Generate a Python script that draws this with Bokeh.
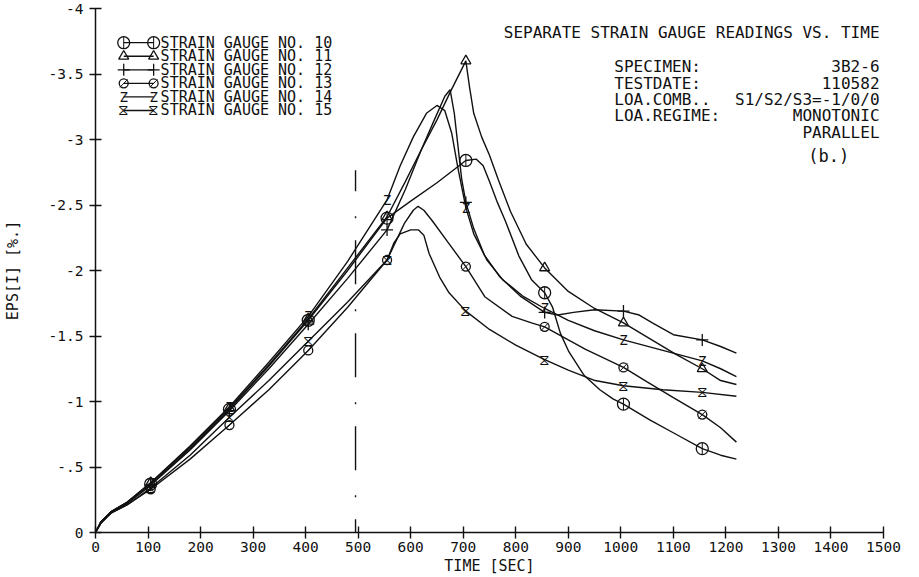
from bokeh.plotting import figure
from bokeh.models import Range1d, FixedTicker
from bokeh.core.properties import value
from bokeh.embed import file_html
from bokeh.resources import INLINE

# ---------------- data ----------------
rise_t = [0, 10, 30, 60, 105, 180, 255, 330, 405, 480, 555]

t10 = rise_t + [600, 650, 705, 725, 738, 750, 765, 780, 806, 830, 855, 870, 885, 901, 930, 960, 985, 1005, 1055, 1105, 1155, 1190, 1220]
v10 = [0, -.08, -.16, -.23, -.37, -.64, -.94, -1.27, -1.62, -2.00, -2.40,
       -2.53, -2.67, -2.84, -2.85, -2.80, -2.68, -2.52, -2.38, -2.11, -1.93, -1.83, -1.72, -1.52, -1.38, -1.20, -1.09, -1.02, -0.98, -0.86, -0.75, -0.64, -0.59, -0.56]

t11 = rise_t + [590, 620, 650, 675, 695, 705, 712, 720, 735, 750, 767, 790, 820, 855, 900, 950, 1005, 1055, 1105, 1155, 1190, 1220]
v11 = [0, -.08, -.16, -.23, -.38, -.65, -.95, -1.28, -1.63, -2.02, -2.41,
       -2.68, -2.92, -3.15, -3.36, -3.52, -3.60, -3.40, -3.20, -3.02, -2.88, -2.69, -2.45, -2.20, -2.02, -1.84, -1.71, -1.60, -1.48, -1.36, -1.25, -1.16, -1.13]

t12 = rise_t + [590, 620, 645, 665, 675, 683, 690, 697, 705, 720, 740, 770, 810, 855, 880, 910, 950, 1005, 1035, 1060, 1100, 1155, 1190, 1220]
v12 = [0, -.07, -.15, -.22, -.36, -.63, -.93, -1.25, -1.59, -1.94, -2.31,
       -2.62, -2.92, -3.15, -3.33, -3.38, -3.20, -2.95, -2.70, -2.52, -2.32, -2.12, -1.95, -1.80, -1.68, -1.66, -1.68, -1.70, -1.69, -1.66, -1.60, -1.51, -1.47, -1.42, -1.37]

t13 = rise_t + [588, 605, 614, 625, 641, 670, 705, 741, 793, 830, 855, 900, 932, 1005, 1050, 1100, 1155, 1190, 1220]
v13 = [0, -.07, -.15, -.21, -.33, -.56, -.82, -1.09, -1.39, -1.72, -2.08,
       -2.36, -2.46, -2.49, -2.46, -2.38, -2.22, -2.03, -1.80, -1.65, -1.60, -1.57, -1.47, -1.40, -1.26, -1.15, -1.03, -0.90, -0.80, -0.69]

t14 = rise_t + [580, 605, 630, 650, 665, 678, 690, 705, 720, 745, 775, 815, 855, 900, 950, 1005, 1080, 1155, 1190, 1220]
v14 = [0, -.08, -.16, -.23, -.38, -.66, -.96, -1.30, -1.65, -2.07, -2.54,
       -2.80, -3.02, -3.20, -3.26, -3.22, -3.05, -2.78, -2.48, -2.28, -2.08, -1.93, -1.80, -1.71, -1.62, -1.54, -1.47, -1.39, -1.31, -1.25, -1.19]

t15 = rise_t + [568, 580, 600, 615, 625, 635, 655, 673, 705, 750, 800, 855, 900, 951, 1005, 1080, 1155, 1220]
v15 = [0, -.07, -.15, -.21, -.34, -.59, -.88, -1.16, -1.46, -1.76, -2.08,
       -2.21, -2.28, -2.31, -2.31, -2.27, -2.13, -1.95, -1.83, -1.69, -1.55, -1.43, -1.32, -1.24, -1.16, -1.12, -1.09, -1.07, -1.04]

marker_times = [105, 255, 405, 555, 705, 855, 1005, 1155]
gauge_names = ["STRAIN GAUGE NO. 10", "STRAIN GAUGE NO. 11", "STRAIN GAUGE NO. 12",
               "STRAIN GAUGE NO. 13", "STRAIN GAUGE NO. 14", "STRAIN GAUGE NO. 15"]
x_ticks = [0, 100, 200, 300, 400, 500, 600, 700, 800, 900, 1000, 1100, 1200, 1300, 1400, 1500]
y_ticks = [0, -0.5, -1, -1.5, -2, -2.5, -3, -3.5, -4]
y_tick_labels = ["0", "-.5", "-1", "-1.5", "-2", "-2.5", "-3", "-3.5", "-4"]
divider_time = [495, 495]
divider_eps = [-2.765, 0.0]

title_text = "SEPARATE STRAIN GAUGE READINGS VS. TIME"
info_keys = ["SPECIMEN:", "TESTDATE:", "LOA.COMB..", "LOA.REGIME:", ""]
info_vals = ["3B2-6", "110582", "S1/S2/S3=-1/0/0", "MONOTONIC", "PARALLEL"]
panel_tag = "(b.)"

# ---------------- layout helpers (pixel -> data) ----------------
FX0, FX1, FY0, FY1 = 92.7, 883.0, 533.3, 7.7


def tx(px):
    return (px - FX0) * 1500.0 / (FX1 - FX0)


def vy(py):
    return -4.0 * (FY0 - py) / (FY0 - FY1)


FONT = "DejaVu Sans Mono"
INK = "#111111"

p = figure(width=919, height=577, output_backend="svg", toolbar_location=None,
           x_range=Range1d(0, 1500), y_range=Range1d(0, -4),
           min_border_left=93, min_border_right=36, min_border_top=8, min_border_bottom=44)
p.outline_line_color = None
p.grid.visible = False
p.background_fill_color = "white"
p.border_fill_color = "white"

for ax in (p.xaxis[0], p.yaxis[0]):
    ax.axis_line_color = INK
    ax.axis_line_width = 1.5
    ax.major_tick_line_color = INK
    ax.major_tick_line_width = 1.4
    ax.minor_tick_line_color = None
    ax.major_label_text_font = FONT
    ax.major_label_text_font_size = "14.5px"
    ax.major_label_text_color = INK
    ax.axis_label_text_font = FONT
    ax.axis_label_text_font_style = "normal"
    ax.axis_label_text_font_size = "15px"
    ax.axis_label_text_color = INK
    ax.major_tick_in = 6
    ax.major_tick_out = 6

p.xaxis.ticker = FixedTicker(ticks=x_ticks)
p.yaxis.ticker = FixedTicker(ticks=y_ticks)
p.yaxis.major_label_overrides = {k: s for k, s in zip(y_ticks, y_tick_labels)}
p.xaxis.axis_label = "TIME [SEC]"
p.yaxis.axis_label = "EPS[I] [%.]"
p.xaxis.major_label_standoff = 3
p.xaxis.axis_label_standoff = 2
p.yaxis.major_label_standoff = 6
p.yaxis.axis_label_standoff = 24

# divider line
p.line(divider_time, divider_eps, line_color=INK, line_width=1.4,
       line_dash="44 25 2 22", line_dash_offset=23)

series = [(t10, v10), (t11, v11), (t12, v12), (t13, v13), (t14, v14), (t15, v15)]
for t, v in series:
    p.line(t, v, line_color=INK, line_width=1.4)


def marker_pts(t, v):
    xs, ys = [], []
    for mt in marker_times:
        i = t.index(mt)
        xs.append(t[i])
        ys.append(v[i])
    return xs, ys


def draw_marker(kind, xs, ys):
    if kind == 0:
        p.scatter(xs, ys, marker="circle", size=12, fill_color=None,
                  line_color=INK, line_width=1.3)
        p.scatter(xs, ys, marker="dash", size=12, angle=1.5708, line_color=INK, line_width=1.0)
    elif kind == 1:
        p.scatter(xs, ys, marker="triangle", size=10, fill_color=None, line_color=INK, line_width=1.3)
    elif kind == 2:
        p.scatter(xs, ys, marker="cross", size=12, line_color=INK, line_width=1.3)
    elif kind == 3:
        p.scatter(xs, ys, marker="circle", size=9, fill_color=None, line_color=INK, line_width=1.3)
        p.scatter(xs, ys, marker="dash", size=11, angle=0.8, line_color=INK, line_width=1.0)
    elif kind == 4:
        p.text(xs, ys, text=value("Z"), text_font=value(FONT), text_font_size="14px",
               text_align="center", text_baseline="middle", text_color=INK)
    else:
        p.text(xs, ys, text=value("\u29d6"), text_font=value("DejaVu Sans"), text_font_size="15px",
               text_align="center", text_baseline="middle", text_color=INK)


for k, (t, v) in enumerate(series):
    xs, ys = marker_pts(t, v)
    draw_marker(k, xs, ys)

# ---------------- legend (drawn like the plotter key) ----------------
leg_rows_py = [42, 55.6, 69.2, 82.8, 96.4, 110]
for k, name in enumerate(gauge_names):
    yy = vy(leg_rows_py[k])
    xa, xb = tx(121), tx(151)
    p.line([xa, xb], [yy, yy], line_color=INK, line_width=1.3)
    draw_marker(k, [xa, xb], [yy, yy])
    p.text([tx(158)], [yy], text=value(name), text_font=value(FONT), text_font_size="15px",
           text_align="left", text_baseline="middle", text_color=INK)

# ---------------- title and info block ----------------
p.text([tx(879)], [vy(32)], text=value(title_text), text_font=value(FONT), text_font_size="16px",
       text_align="right", text_baseline="middle", text_color=INK)
info_rows_py = [66, 82.5, 99, 115.5, 132]
for k in range(len(info_vals)):
    yy = vy(info_rows_py[k])
    if info_keys[k]:
        p.text([tx(613)], [yy], text=value(info_keys[k]), text_font=value(FONT), text_font_size="16px",
               text_align="left", text_baseline="middle", text_color=INK)
    p.text([tx(879)], [yy], text=value(info_vals[k]), text_font=value(FONT), text_font_size="16px",
           text_align="right", text_baseline="middle", text_color=INK)
p.text([tx(828)], [vy(156)], text=value(panel_tag), text_font=value(FONT), text_font_size="17px",
       text_align="center", text_baseline="middle", text_color=INK)

open("out.html", "w").write(file_html(p, INLINE))
